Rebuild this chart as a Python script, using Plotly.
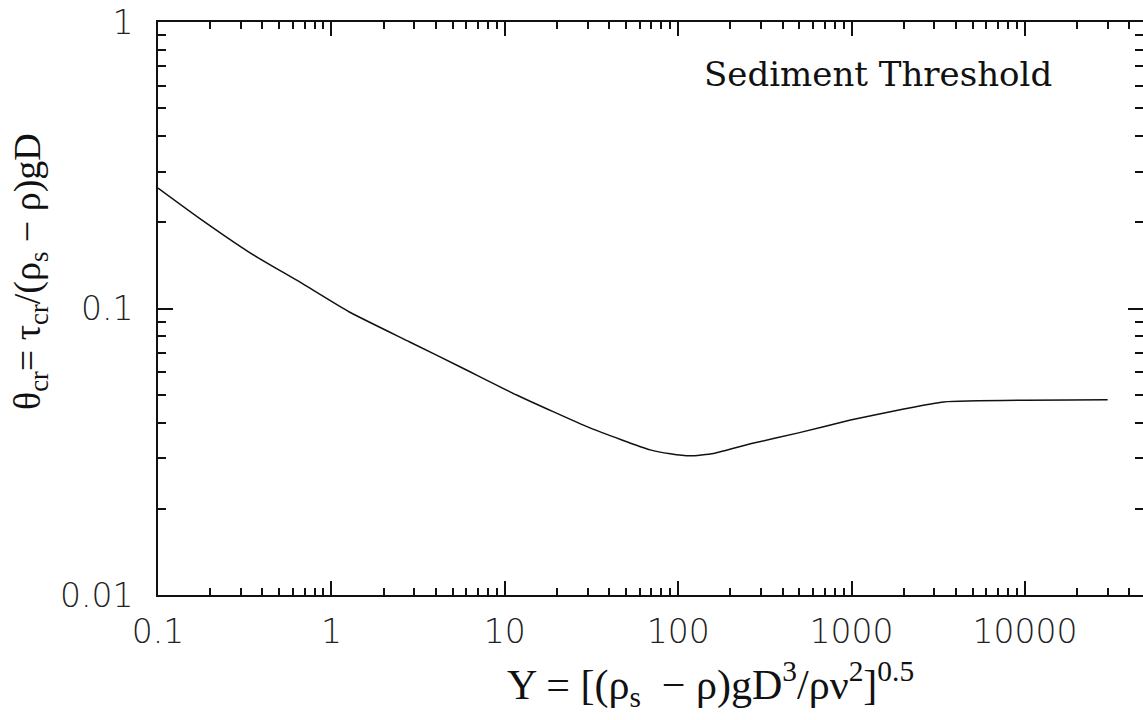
import plotly.graph_objects as go

# Curve values (log-log Shields-type threshold curve)
y_param = [0.1, 0.172, 0.336, 0.653, 1.27, 2.83, 5.7, 11.7, 31, 69, 90, 117, 160, 261, 494, 986, 2000, 3400, 30000]
theta_cr = [0.263, 0.207, 0.157, 0.124, 0.0972, 0.0764, 0.062, 0.0499, 0.0383, 0.0321,
            0.0311, 0.0306, 0.0312, 0.0337, 0.0368, 0.0408, 0.0446, 0.0472, 0.048]

x_tickvals = [0.1, 1, 10, 100, 1000, 10000]
x_ticktext = ["0.1", "1", "10", "100", "1000", "10000"]
y_tickvals = [0.01, 0.1, 1]
y_ticktext = ["0.01", "0.1", "1"]

x_minor = [m * 10 ** k for k in range(-1, 5) for m in range(2, 10)]
y_minor = [m * 10 ** k for k in range(-2, 0) for m in range(2, 10)]

W, H = 1143, 720
L, R, T, B = 158, 0, 22, 125
x_range = [-1, 4.681]
y_range = [-2, 0]

tick_font = dict(family="DejaVu Sans", size=33, color="#222", weight=300)
serif = "Liberation Serif"

fig = go.Figure()
fig.add_trace(go.Scatter(x=y_param, y=theta_cr, mode="lines",
                         line=dict(color="#111", width=1.5, shape="spline", smoothing=0.5),
                         showlegend=False, hoverinfo="skip"))
# invisible copy to carry the right-hand tick axis
fig.add_trace(go.Scatter(x=y_param, y=theta_cr, mode="lines", yaxis="y2",
                         line=dict(color="rgba(0,0,0,0)", width=0), showlegend=False,
                         hoverinfo="skip"))

fig.update_layout(
    width=W, height=H,
    margin=dict(l=L, r=R, t=T, b=B, autoexpand=False),
    paper_bgcolor="white", plot_bgcolor="white",
    xaxis=dict(type="log", range=x_range, showgrid=False, zeroline=False,
               showline=True, linecolor="#111", linewidth=2, mirror="ticks",
               ticks="inside", ticklen=14, tickwidth=1.5, tickcolor="#111",
               tickvals=x_tickvals, ticktext=x_ticktext, tickfont=tick_font,
               ticklabelstandoff=6,
               minor=dict(ticks="inside", ticklen=7, tickwidth=1.5, tickcolor="#111",
                          tickmode="array", tickvals=x_minor, showgrid=False)),
    yaxis=dict(type="log", range=y_range, showgrid=False, zeroline=False,
               showline=True, linecolor="#111", linewidth=2, mirror=False,
               ticks="inside", ticklen=15, tickwidth=1.5, tickcolor="#111",
               tickvals=y_tickvals, ticktext=y_ticktext, tickfont=tick_font,
               ticklabelstandoff=16,
               minor=dict(ticks="inside", ticklen=8, tickwidth=1.5, tickcolor="#111",
                          tickmode="array", tickvals=y_minor, showgrid=False)),
    yaxis2=dict(type="log", range=y_range, overlaying="y", side="right",
                showgrid=False, zeroline=False, showline=False,
                ticks="inside", ticklen=15, tickwidth=1.5, tickcolor="#111",
                tickvals=y_tickvals, showticklabels=False,
                minor=dict(ticks="inside", ticklen=8, tickwidth=1.5, tickcolor="#111",
                           tickmode="array", tickvals=y_minor, showgrid=False)),
)

fig.add_annotation(
    text="Y = [(ρ<sub>s</sub>  − ρ)gD<sup>3</sup>/ρν<sup>2</sup>]<sup>0.5</sup>",
    xref="paper", yref="paper", x=(710 - L) / (W - L - R), y=-(684 - (H - B)) / (H - T - B),
    xanchor="center", yanchor="middle", showarrow=False,
    font=dict(family=serif, size=42, color="#111"))

fig.add_annotation(
    text="θ<sub>cr</sub>= τ<sub>cr</sub>/(ρ<sub>s</sub> − ρ)gD",
    xref="paper", yref="paper", x=(30 - L) / (W - L - R), y=((H - B) - 272) / (H - T - B),
    xanchor="center", yanchor="middle", showarrow=False, textangle=-90,
    font=dict(family=serif, size=38, color="#111"))

fig.add_annotation(
    text="Sediment Threshold",
    xref="paper", yref="paper", x=(878 - L) / (W - L - R), y=((H - B) - 74) / (H - T - B),
    xanchor="center", yanchor="middle", showarrow=False,
    font=dict(family="DejaVu Serif", size=34, color="#111"))

fig.write_html("out.html")
